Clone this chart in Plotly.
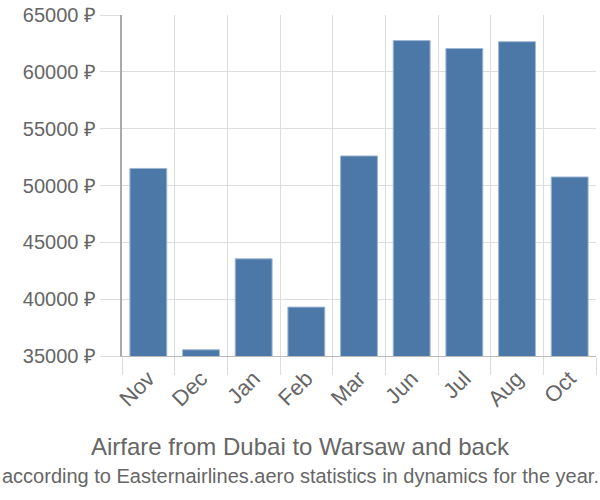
import plotly.graph_objects as go

months = ["Nov", "Dec", "Jan", "Feb", "Mar", "Jun", "Jul", "Aug", "Oct"]
prices = [51500, 35550, 43550, 39300, 52600, 62750, 62050, 62650, 50750]
y_ticks = [35000, 40000, 45000, 50000, 55000, 60000, 65000]
title = "Airfare from Dubai to Warsaw and back"
subtitle = "according to Easternairlines.aero statistics in dynamics for the year."

FONT = "Liberation Sans"
GRAY = "#666666"

fig = go.Figure(go.Bar(
    x=months, y=prices,
    marker=dict(color="#4c78a8", line=dict(color="#9db6d3", width=1)),
    hoverinfo="x+y",
))

W, H = 600, 500
L, R, T, B = 122, 4, 15, 144
pw, ph = W - L - R, H - T - B

def px_x(x):
    return (x - L) / pw

def px_y(y):
    return (H - B - y) / ph

fig.update_layout(
    width=W, height=H,
    margin=dict(l=L, r=R, t=T, b=B, pad=0),
    paper_bgcolor="white", plot_bgcolor="white",
    bargap=0.3,
    showlegend=False,
    font=dict(family=FONT, color=GRAY),
    xaxis=dict(
        type="category",
        tickson="boundaries",
        showgrid=True, gridcolor="#dddddd", gridwidth=1,
        ticks="outside", ticklen=18, tickcolor="#dddddd",
        tickangle=-45,
        tickfont=dict(size=22, color=GRAY, family=FONT),
        showline=True, linecolor="#bbbbbb", linewidth=1,
    ),
    yaxis=dict(
        range=[35000, 65000],
        tickvals=y_ticks,
        ticktext=[f"{v} ₽" for v in y_ticks],
        showgrid=True, gridcolor="#dddddd", gridwidth=1,
        ticks="outside", ticklen=20, tickcolor="#dddddd",
        tickfont=dict(size=20, color=GRAY, family=FONT),
        showline=True, linecolor="#aaaaaa", linewidth=2,
        zeroline=False,
    ),
    annotations=[
        dict(text=title, xref="paper", yref="paper",
             x=px_x(300), y=px_y(446), showarrow=False,
             xanchor="center", yanchor="middle",
             font=dict(size=24, color=GRAY, family=FONT)),
        dict(text=subtitle, xref="paper", yref="paper",
             x=px_x(300), y=px_y(476), showarrow=False,
             xanchor="center", yanchor="middle",
             font=dict(size=20, color=GRAY, family=FONT)),
    ],
)

fig.write_html("out.html")
